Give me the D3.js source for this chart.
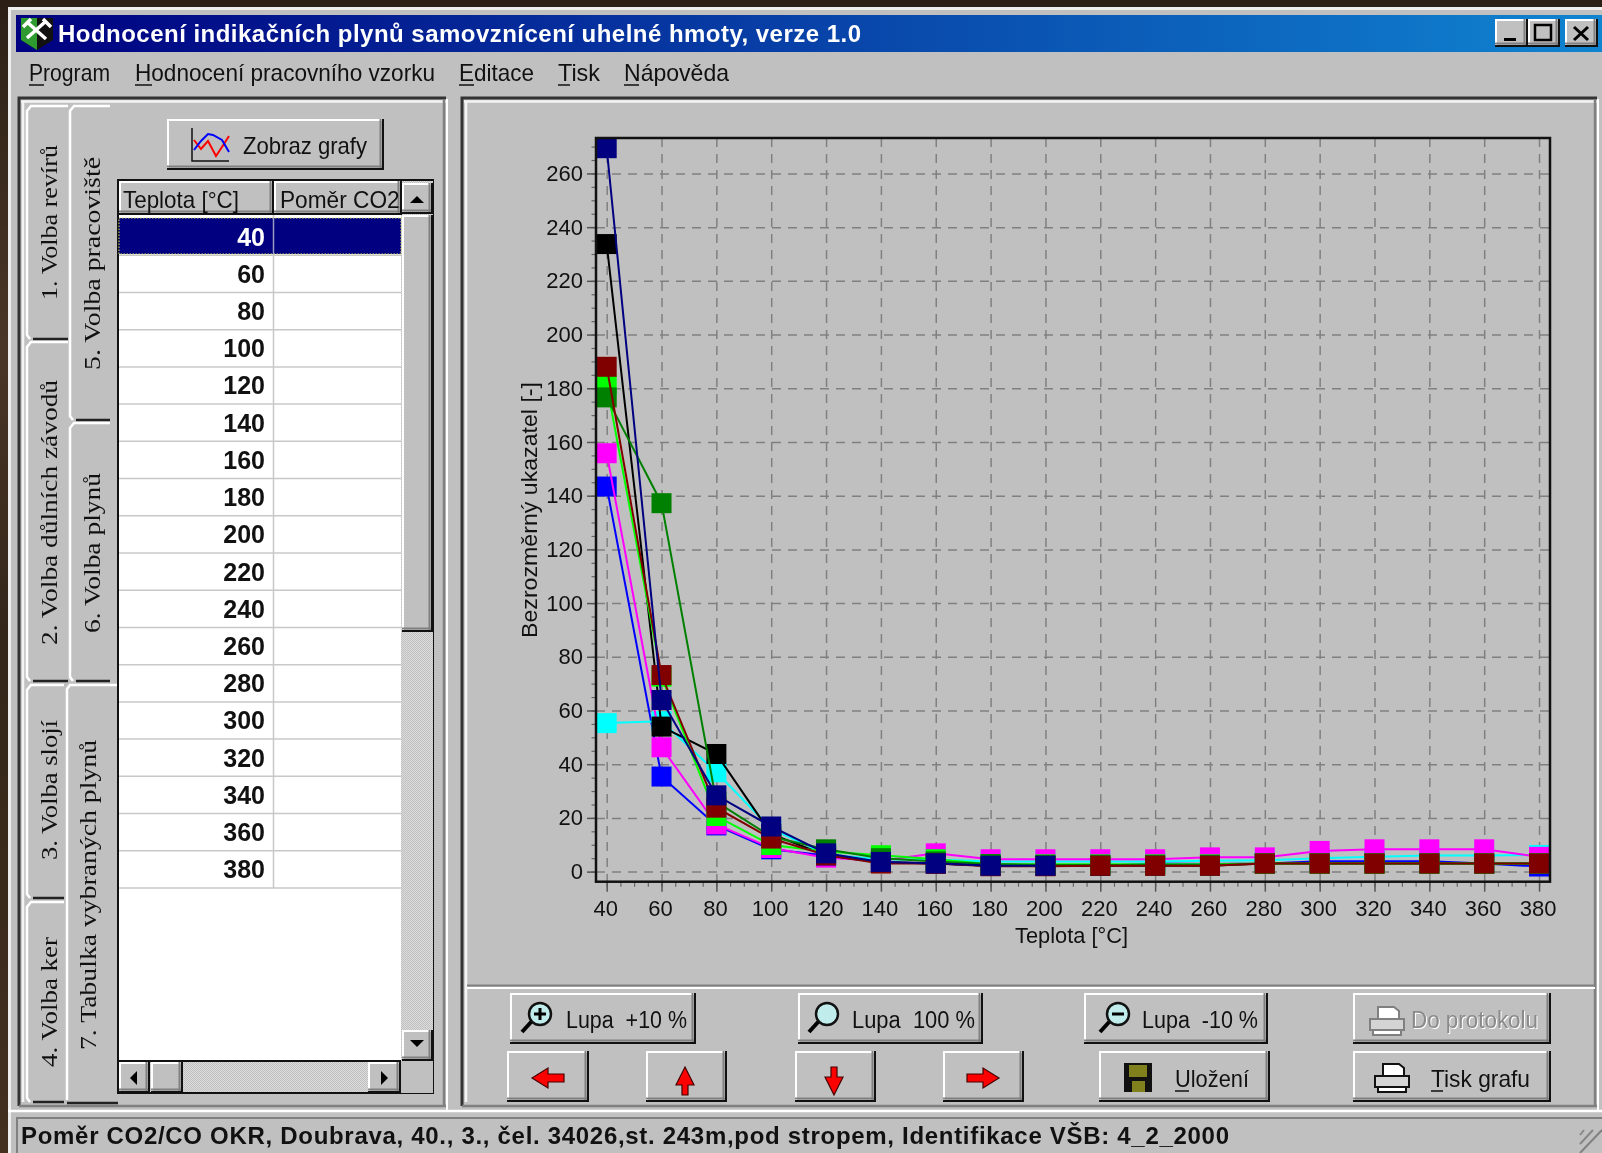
<!DOCTYPE html>
<html><head><meta charset="utf-8">
<style>html,body{margin:0;padding:0;background:#3a2a1c;overflow:hidden}svg{display:block;filter:blur(0.6px)}text{font-family:"Liberation Sans",Arial,sans-serif}</style>
<script src="https://cdn.jsdelivr.net/npm/d3@7"></script></head><body><svg id="c" width="1602" height="1153"></svg>
<script>
// ---- chart data ----
const temperatures=[40,60,80,100,120,140,160,180,200,220,240,260,280,300,320,340,360,380];
const xTicks=temperatures;
const yTicks=[0,20,40,60,80,100,120,140,160,180,200,220,240,260];
const blueValues   =[143.4,35.4,17.2,8.3,6,3.5,3,2.2,2.2,2.2,3,2.8,3,3.9,3.9,3.9,3,1.9];
const cyanValues   =[55.3,56,37,16,6.5,4.5,4.5,3.8,3.8,3.8,3.8,4,4.2,5,5.5,6,6,6.2];
const magentaValues=[155.8,46.3,17.6,8.8,5.2,4,6.8,4.6,4.6,4.6,4.6,5.3,5.3,7.7,8.3,8.3,8.3,5.5];
const blackValues  =[233.7,54,43.8,14,6,3.5,3,2.2,2.2,2.2,2.2,2.2,3,3,3,3,3,3];
const limeValues   =[181.3,72.6,20.7,9.9,7.5,6.1,4.6,2.7,2.7,2.7,2.7,2.7,3,3,3,3,3,3];
const greenValues  =[176.6,137.2,26,13,8.3,5,3.8,2.8,2.5,2.5,2.5,2.5,3,3,3,3,3,3];
const maroonValues =[188,73.2,23.8,12.3,6.2,3,3,2,2,2.2,2.2,2.2,3,3,3,3,3,3];
const navyValues   =[269.4,63.9,28.4,16.8,6.8,3.6,3.1,2.2,2.2,null,null,null,null,null,null,null,null,null];
const seriesNames=["blue","cyan","magenta","black","lime","green","maroon","navy"];
const seriesValues=[blueValues,cyanValues,magentaValues,blackValues,limeValues,greenValues,maroonValues,navyValues];
const seriesColors=["#0000ff","#00ffff","#ff00ff","#000000","#00ff00","#008000","#800000","#000080"];
const xTitle="Teplota [°C]", yTitle="Bezrozměrný ukazatel  [-]";
const tableHeaders=["Teplota [°C]","Poměr CO2/"];
const windowTitle="Hodnocení indikačních plynů samovznícení uhelné hmoty, verze 1.0";
const statusText="Poměr CO2/CO OKR, Doubrava, 40., 3., čel. 34026,st. 243m,pod stropem, Identifikace VŠB: 4_2_2000";
const menuItems=[["Program",29,81],["Hodnocení pracovního vzorku",135,300],["Editace",459,75],["Tisk",558,42],["Nápověda",624,105]];
const tabItems=[["1. Volba revírů",57,300,155],["2. Volba důlních závodů",57,645,265],["3. Volba slojí",57,860,140],["4. Volba ker",57,1067,130],
 ["5. Volba pracoviště",100,370,213],["6. Volba plynů",100,633,160],["7. Tabulka vybraných plynů",96,1050,310]];

const svg=d3.select("#c"),G="#c0c0c0";
const R=(g,x,y,w,h,f)=>g.append("rect").attr("x",x).attr("y",y).attr("width",w).attr("height",h).attr("fill",f);
const L=(g,x1,y1,x2,y2,c,w=1)=>g.append("line").attr("x1",x1).attr("y1",y1).attr("x2",x2).attr("y2",y2).attr("stroke",c).attr("stroke-width",w);
function T(g,s,x,y,o={}){const t=g.append("text").attr("x",x).attr("y",y).text(s).attr("font-size",o.size||23).attr("fill",o.fill||"#111");
 if(o.bold)t.attr("font-weight","bold"); if(o.anchor)t.attr("text-anchor",o.anchor); if(o.len)t.attr("textLength",o.len).attr("lengthAdjust",o.adj||"spacingAndGlyphs");
 if(o.font)t.style("font-family",o.font); if(o.rot)t.attr("transform",`rotate(-90 ${x} ${y})`); return t;}
function bevel(g,x0,y0,x1,y1){R(g,x0,y0,x1-x0,y1-y0,G);
 L(g,x0,y0+1,x1,y0+1,"#fff",2);L(g,x0+1,y0,x0+1,y1,"#fff",2);
 L(g,x0,y1-3.5,x1,y1-3.5,"#808080",2);L(g,x1-3.5,y0,x1-3.5,y1,"#808080",2);
 L(g,x0,y1-1,x1,y1-1,"#111",2);L(g,x1-1,y0,x1-1,y1,"#111",2);}

// ---- desktop and window ----
const defs=svg.append("defs");
const wood=defs.append("linearGradient").attr("id","wood").attr("x1",0).attr("y1",0).attr("x2",0).attr("y2",1);
[["0","#2c2016"],["0.3","#4a3626"],["0.55","#33261a"],["1","#43301f"]].forEach(d=>wood.append("stop").attr("offset",d[0]).attr("stop-color",d[1]));
R(svg,0,0,1602,1153,"url(#wood)");
R(svg,8,7,1594,1146,G);L(svg,8,8.5,1602,8.5,"#eee",3);L(svg,9.5,7,9.5,1153,"#eee",3);
const tg=defs.append("linearGradient").attr("id","tb");
tg.append("stop").attr("offset",0).attr("stop-color","#000080");tg.append("stop").attr("offset",1).attr("stop-color","#1084d0");
R(svg,16,15,1586,37,"url(#tb)");
T(svg,windowTitle,58,42,{fill:"#fff",bold:true,size:24,len:803,adj:"spacing"});
// logo
const lg=svg.append("g");
lg.append("path").attr("d","M21 18H53V40L37 50L21 40Z").attr("fill","#111");
lg.append("path").attr("d","M21 18H37V50L21 40Z").attr("fill","#2f9a2f");
lg.append("path").attr("d","M27 38L45 22M27 22L46 39M23 27L31 19M43 19L51 27").attr("stroke","#fff").attr("stroke-width",3.5).attr("fill","none");
// window buttons
[[1495,1528],[1528,1560],[1565,1598]].forEach(b=>bevel(svg,b[0],19,b[1],47));
R(svg,1504,38,12,3,"#000");
svg.append("rect").attr("x",1535).attr("y",25).attr("width",16).attr("height",15).attr("fill","none").attr("stroke","#000").attr("stroke-width",2.5);
svg.append("path").attr("d","M1574 27L1588 40M1588 27L1574 40").attr("stroke","#000").attr("stroke-width",3);
// menu
menuItems.forEach(m=>{T(svg,m[0],m[1],81,{len:m[2],size:24});const w=m[0].charAt(0)=="H"?17:m[0]=="Tisk"?12:15;L(svg,m[1],85,m[1]+w,85,"#111",1.5);});

// panels
function panel(x0,x1){svg.append("path").attr("d",`M${x0} 1106V98H${x1}`).attr("fill","none").attr("stroke","#333").attr("stroke-width",3);
 L(svg,x0+2,101.5,x1,101.5,"#f4f4f4",2.5);L(svg,x0+4,101,x0+4,1102,"#f4f4f4",2.5);
 L(svg,x0,1106,x1,1106,"#808080",2.5);L(svg,x1-2,99,x1-2,1107,"#808080",2.5);L(svg,x1+1,99,x1+1,1110,"#fff",2);}
panel(19,446);panel(462,1597);
L(svg,8,1111,1602,1111,"#fff",2.5);

// tabs
function tab(x0,x1,y0,y1){R(svg,x0,y0,x1-x0,y1-y0,G);
 svg.append("path").attr("d",`M${x1} ${y0}H${x0+4}L${x0} ${y0+5}V${y1-4}L${x0+3} ${y1}`).attr("fill","none").attr("stroke","#fff").attr("stroke-width",2.5);
 L(svg,x0+6,y1,x1,y1,"#222",2.5);}
tab(27,68,106,339);tab(27,68,342,681);tab(27,64,685,898);tab(27,64,902,1102);
tab(70,110,106,420);tab(70,110,423,681);
R(svg,66,685,52,418,G);svg.append("path").attr("d","M118 685H70L67 689V1100").attr("fill","none").attr("stroke","#fff").attr("stroke-width",2.5);L(svg,67,1103,118,1103,"#222",2.5);
tabItems.forEach(t=>T(svg,t[0],t[1],t[2],{rot:true,size:24,len:t[3],font:'"Liberation Serif",serif'}));

// Zobraz grafy
bevel(svg,167,119,384,170);
T(svg,"Zobraz grafy",243,154,{len:124,size:24});
const ic=svg.append("g");
ic.append("path").attr("d","M192 128V161H229").attr("stroke","#111").attr("stroke-width",1.5).attr("fill","none");
ic.append("path").attr("d","M194 140L201 149L208 141L216 156L222 147L229 136").attr("stroke","#f00").attr("stroke-width",2).attr("fill","none");
ic.append("path").attr("d","M194 150L201 141L208 134L213 135L222 140L229 152").attr("stroke","#00f").attr("stroke-width",2).attr("fill","none");

// grid table
R(svg,117,179,317,915,"#111");R(svg,119,181,401-119,879,"#fff");
const pat=defs.append("pattern").attr("id","dith").attr("width",2).attr("height",2).attr("patternUnits","userSpaceOnUse");
pat.append("rect").attr("width",2).attr("height",2).attr("fill","#dcdcdc");pat.append("rect").attr("width",1).attr("height",1).attr("fill","#c0c0c0");pat.append("rect").attr("x",1).attr("y",1).attr("width",1).attr("height",1).attr("fill","#c0c0c0");
R(svg,401,181,32,880,"url(#dith)");R(svg,119,1062,282,30,"url(#dith)");R(svg,401,1061,32,32,G);
bevel(svg,119,181,274,215);bevel(svg,274,181,402,215);
T(svg,tableHeaders[0],123,208,{len:116,size:24});
const hdrClip=defs.append("clipPath").attr("id","hc");hdrClip.append("rect").attr("x",276).attr("y",181).attr("width",124).attr("height",34);
T(svg,tableHeaders[1],280,208,{len:126,size:24}).attr("clip-path","url(#hc)");
const rowY=d3.scaleLinear().domain([0,18]).range([218,888]);
const rows=svg.append("g");
rows.selectAll("line").data(temperatures).join("line").attr("x1",119).attr("x2",401).attr("y1",(d,i)=>rowY(i+1)).attr("y2",(d,i)=>rowY(i+1)).attr("stroke","#c8c8c8").attr("stroke-width",1.5);
L(svg,273.5,215,273.5,888,"#c8c8c8",1.5);
R(svg,119,218,282,36,"#000080");
svg.append("rect").attr("x",119).attr("y",218).attr("width",282).attr("height",36).attr("fill","none").attr("stroke","#dcdc70").attr("stroke-dasharray","1.5 1.5");
L(svg,273.5,218,273.5,254,"#9a9ac0",1.5);
svg.append("g").selectAll("text").data(temperatures).join("text").attr("x",265).attr("y",(d,i)=>rowY(i)+27.5).attr("text-anchor","end").attr("font-size",25).attr("font-weight","bold").attr("fill",(d,i)=>i?"#111":"#fff").text(d=>d);
// scrollbars
bevel(svg,402,183,433,214);bevel(svg,402,215,433,632);bevel(svg,402,1030,433,1061);
bevel(svg,119,1062,150,1093);bevel(svg,151,1062,183,1093);bevel(svg,368,1062,401,1093);
const tri=d=>svg.append("path").attr("d",d).attr("fill","#000");
tri("M410 203H424L417 196Z");tri("M410 1040H424L417 1047Z");tri("M137 1071V1085L130 1078Z");tri("M381 1071V1085L388 1078Z");

// ---- plot ----
const X0=596,X1=1550,Y0=138,Y1=881.7;
const x=d3.scaleLinear().domain([36.1,384]).range([X0,X1]);
const y=d3.scaleLinear().domain([-3.76,273.2]).range([Y1,Y0]);
const plot=svg.append("g");
const gridStyle=s=>s.call(g=>g.select(".domain").remove()).call(g=>g.selectAll("text").remove()).call(g=>g.selectAll("line").attr("stroke","#808080").attr("stroke-width",1.5).attr("stroke-dasharray","9 7"));
plot.append("g").attr("transform",`translate(${X0},0)`).call(d3.axisLeft(y).tickValues(yTicks).tickSize(-(X1-X0))).call(gridStyle);
plot.append("g").attr("transform",`translate(0,${Y0})`).call(d3.axisBottom(x).tickValues(xTicks).tickSize(Y1-Y0)).call(gridStyle);
const minorY=d3.range(0,271,5),minorX=d3.range(40,381,5);
plot.append("g").attr("transform",`translate(${X0},0)`).call(d3.axisLeft(y).tickValues(minorY).tickSize(4.5).tickFormat("")).call(g=>{g.select(".domain").remove();g.selectAll("line").attr("stroke","#666").attr("stroke-width",1.2)});
plot.append("g").attr("transform",`translate(0,${Y1})`).call(d3.axisBottom(x).tickValues(minorX).tickSize(5).tickFormat("")).call(g=>{g.select(".domain").remove();g.selectAll("line").attr("stroke","#666").attr("stroke-width",1.2)});
plot.append("g").attr("transform",`translate(${X0},0)`).call(d3.axisLeft(y).tickValues(yTicks).tickSize(9).tickPadding(4)).call(g=>{g.select(".domain").remove();g.selectAll("line").attr("stroke","#555").attr("stroke-width",1.5);g.selectAll("text").attr("font-size",22).attr("fill","#111").style("font-family",'"Liberation Sans"')});
plot.append("g").attr("transform",`translate(0,${Y1})`).call(d3.axisBottom(x).tickValues(xTicks).tickSize(10).tickPadding(9)).call(g=>{g.select(".domain").remove();g.selectAll("line").attr("stroke","#555").attr("stroke-width",1.5);g.selectAll("text").attr("font-size",22).attr("fill","#111").attr("dx",-1.5).style("font-family",'"Liberation Sans"')});
T(plot,xTitle,1015,943,{len:113,size:22});
T(plot,yTitle,537,638,{rot:true,len:256,size:22});
const line=d3.line().defined(d=>d!=null).x((d,i)=>x(temperatures[i])).y(d=>y(d));
seriesValues.forEach((vals,k)=>{
 const g=plot.append("g").attr("class","series-"+seriesNames[k]);
 g.append("path").attr("d",line(vals)).attr("fill","none").attr("stroke",seriesColors[k]).attr("stroke-width",2);
 g.selectAll("rect").data(vals.map((v,i)=>[temperatures[i],v]).filter(d=>d[1]!=null)).join("rect")
  .attr("x",d=>x(d[0])-10).attr("y",d=>y(d[1])-10).attr("width",20).attr("height",20).attr("fill",seriesColors[k]);
});
plot.append("rect").attr("x",X0).attr("y",Y0).attr("width",X1-X0).attr("height",Y1-Y0).attr("fill","none").attr("stroke","#111").attr("stroke-width",2.5);

// ---- lower toolbar ----
L(svg,467,985.5,1595,985.5,"#808080",2);L(svg,467,988,1595,988,"#fff",2);
const btns=[[510,993,696,1044],[798,993,983,1044],[1084,993,1268,1044],[1353,993,1551,1044],[507,1051,589,1102],[646,1051,727,1102],[795,1051,876,1102],[943,1051,1024,1102],[1099,1051,1270,1102],[1353,1051,1551,1102]];
btns.forEach(b=>bevel(svg,...b));
function lens(cx,sign){const g=svg.append("g");
 g.append("path").attr("d",`M${cx-5} 1021L${cx-15} 1032`).attr("stroke","#000").attr("stroke-width",4);
 g.append("circle").attr("cx",cx+3).attr("cy",1014).attr("r",11).attr("fill","#c0ecec").attr("stroke","#111").attr("stroke-width",2.5);
 if(sign){L(g,cx-3,1014,cx+9,1014,"#000",3);} if(sign=="+"){L(g,cx+3,1008,cx+3,1020,"#000",3);}}
lens(537,"+");lens(824,"");lens(1115,"-");
T(svg,"Lupa  +10 %",566,1028,{len:121,size:23}).attr("xml:space","preserve");
T(svg,"Lupa  100 %",852,1028,{len:123,size:23}).attr("xml:space","preserve");
T(svg,"Lupa  -10 %",1142,1028,{len:116,size:23}).attr("xml:space","preserve");
T(svg,"Do protokolu",1412,1029,{len:127,size:23,fill:"#fff"});
T(svg,"Do protokolu",1411,1028,{len:127,size:23,fill:"#8a8a8a"});
const pr=(x0,y0,c)=>{const g=svg.append("g");
 g.append("path").attr("d",`M${x0+8} ${y0+2}H${x0+24}L${x0+29} ${y0+6}V${y0+14}H${x0+8}Z`).attr("fill","#fff").attr("stroke",c).attr("stroke-width",2);
 g.append("rect").attr("x",x0).attr("y",y0+14).attr("width",34).attr("height",11).attr("fill","#d4d4d4").attr("stroke",c).attr("stroke-width",2);
 g.append("rect").attr("x",x0+3).attr("y",y0+25).attr("width",28).attr("height",5).attr("fill","#fff").attr("stroke",c).attr("stroke-width",2);};
pr(1370,1005,"#808080");pr(1375,1062,"#111");
T(svg,"Tisk grafu",1431,1087,{len:99,size:24});L(svg,1431,1091,1443,1091,"#111",1.5);
T(svg,"Uložení",1175,1087,{len:74,size:24});L(svg,1175,1091,1189,1091,"#111",1.5);
// floppy
R(svg,1124,1063,28,29,"#111");R(svg,1129,1065,18,12,"#80801c");R(svg,1132,1081,13,11,"#80801c");
// arrows
const arr=d=>svg.append("path").attr("d",d).attr("fill","#f00").attr("stroke","#400").attr("stroke-width",1.2);
arr("M532 1078L548 1068V1074H564V1082H548V1088Z");
arr("M685 1067L694 1085H688V1095H682V1085H676Z");
arr("M834 1095L825 1077H831V1067H837V1077H843Z");
arr("M999 1078L983 1068V1074H967V1082H983V1088Z");

// status bar
R(svg,16,1118,1586,35,G);L(svg,16,1118,1602,1118,"#808080",2);L(svg,17,1118,17,1153,"#808080",2);
T(svg,statusText,21,1144,{bold:true,size:24,len:1208,adj:"spacing"});
[0,9,18].forEach(d=>svg.append("path").attr("d",`M${1602-d} 1130L${1580} ${1153-d+0}`).attr("stroke","#808080").attr("stroke-width",2).attr("opacity",d==0?1:0.9));
</script></body></html>
